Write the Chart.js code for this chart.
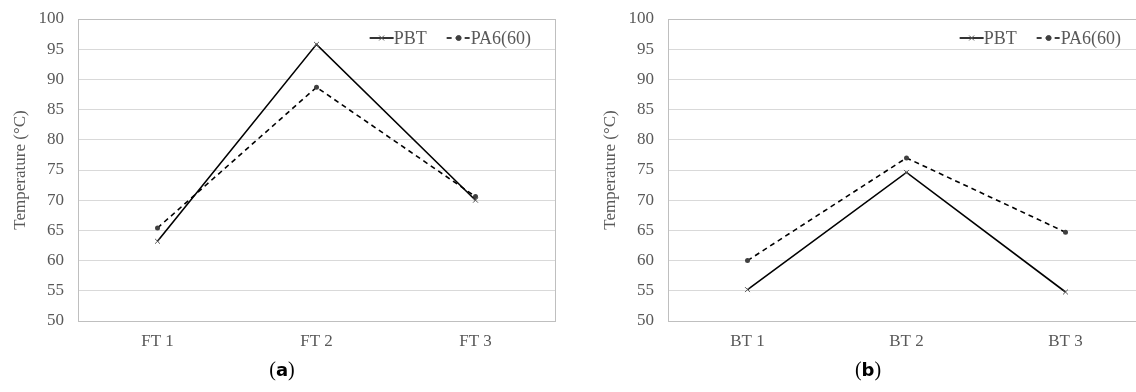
<!DOCTYPE html>
<html>
<head>
<meta charset="utf-8">
<script src="https://cdn.jsdelivr.net/npm/chart.js@4.4.1/dist/chart.umd.min.js"></script>
<style>
  html, body { margin: 0; padding: 0; background: #fff; }
  body { width: 1136px; height: 392px; position: relative; overflow: hidden; }
  .box { position: absolute; top: 0; width: 560px; height: 360px; }
  .cap { position: absolute; top: 358px; font-family: "Liberation Serif", serif; font-size: 20px; color: #000; transform: translateX(-50%); }
  .cap b { font-family: "DejaVu Sans", sans-serif; font-size: 18px; }
</style>
</head>
<body>
<div class="box" style="left:0"><canvas id="chartA"></canvas></div>
<div class="box" style="left:590px"><canvas id="chartB"></canvas></div>
<div class="cap" style="left:282px">(<b>a</b>)</div>
<div class="cap" style="left:868px">(<b>b</b>)</div>
<script>
// data
const seriesNames = ['PBT', 'PA6(60)'];
const frontLabels = ['FT 1', 'FT 2', 'FT 3'];
const frontPBT = [63.2, 95.8, 70.0];
const frontPA6 = [65.4, 88.7, 70.6];
const backLabels = ['BT 1', 'BT 2', 'BT 3'];
const backPBT = [55.2, 74.6, 54.8];
const backPA6 = [60.0, 77.0, 64.7];
const yTitle = 'Temperature (°C)';

const serif = '"Liberation Serif", "Times New Roman", serif';
const grey = '#595959';

// legend drawn inside the plot, top right, like the Excel original
const insideLegend = {
  id: 'insideLegend',
  afterDraw(chart) {
    const ctx = chart.ctx;
    const area = chart.chartArea;
    const sample = 24, gap = 20;
    ctx.save();
    ctx.font = '18px ' + serif;
    const sets = chart.data.datasets;
    let total = 0;
    sets.forEach((ds, i) => {
      total += sample + ctx.measureText(ds.label).width + (i ? gap : 0);
    });
    let x = area.right - 24 - total;
    const y = area.top + 19;
    sets.forEach((ds, i) => {
      if (i) x += gap;
      ctx.strokeStyle = ds.borderColor;
      ctx.lineWidth = ds.borderWidth;
      ctx.setLineDash(ds.borderDash || []);
      ctx.beginPath();
      ctx.moveTo(x, y);
      ctx.lineTo(x + sample, y);
      ctx.stroke();
      ctx.setLineDash([]);
      ctx.fillStyle = ds.pointBackgroundColor;
      ctx.strokeStyle = ds.pointBorderColor;
      ctx.lineWidth = 1;
      Chart.helpers.drawPoint(ctx, {
        pointStyle: ds.pointStyle,
        radius: ds.pointRadius,
        borderWidth: 1,
        rotation: 0
      }, x + sample / 2, y);
      ctx.fillStyle = grey;
      ctx.textBaseline = 'middle';
      ctx.textAlign = 'left';
      x += sample;
      ctx.fillText(ds.label, x, y + 1);
      x += ctx.measureText(ds.label).width;
    });
    ctx.restore();
  }
};

// Excel style plot-area frame
const frame = {
  id: 'frame',
  beforeDatasetsDraw(chart) {
    const a = chart.chartArea;
    const ctx = chart.ctx;
    ctx.save();
    ctx.strokeStyle = '#bfbfbf';
    ctx.lineWidth = 1;
    ctx.strokeRect(Math.round(a.left) + 0.5, Math.round(a.top) + 0.5,
                   Math.round(a.right - a.left), Math.round(a.bottom - a.top));
    ctx.restore();
  }
};

function makeChart(id, labels, pbt, pa6) {
  return new Chart(document.getElementById(id).getContext('2d'), {
    type: 'line',
    data: {
      labels: labels,
      datasets: [{
        label: seriesNames[0],
        data: pbt,
        borderColor: '#000',
        borderWidth: 1.6,
        pointStyle: 'crossRot',
        pointRadius: 3.5,
        pointBorderColor: '#595959',
        pointBackgroundColor: '#595959',
        pointBorderWidth: 1
      }, {
        label: seriesNames[1],
        data: pa6,
        borderColor: '#000',
        borderWidth: 1.6,
        borderDash: [5, 4],
        pointStyle: 'circle',
        pointRadius: 2.5,
        pointBorderColor: '#404040',
        pointBackgroundColor: '#404040',
        pointBorderWidth: 0
      }]
    },
    options: {
      responsive: true,
      maintainAspectRatio: false,
      animation: false,
      events: [],
      layout: { padding: { top: 19, right: 5, left: 0, bottom: 0 } },
      plugins: {
        legend: { display: false },
        tooltip: { enabled: false }
      },
      scales: {
        x: {
          offset: true,
          grid: { display: false, drawTicks: false },
          border: { display: false },
          ticks: { color: grey, font: { family: serif, size: 17 }, padding: 10 },
          afterFit(scale) { scale.height = 39; }
        },
        y: {
          min: 50,
          max: 100,
          ticks: { stepSize: 5, color: grey, font: { family: serif, size: 17 }, padding: 14 },
          grid: { color: '#d9d9d9', lineWidth: 1, drawTicks: false },
          border: { display: false },
          title: {
            display: true,
            text: yTitle,
            color: grey,
            font: { family: serif, size: 17 },
            padding: { top: 10 }
          },
          afterFit(scale) {
            scale.width = 78;
            scale.paddingTop = 0;
            scale.paddingBottom = 0;
          }
        }
      }
    },
    plugins: [frame, insideLegend]
  });
}

makeChart('chartA', frontLabels, frontPBT, frontPA6);
makeChart('chartB', backLabels, backPBT, backPA6);
</script>
</body>
</html>
